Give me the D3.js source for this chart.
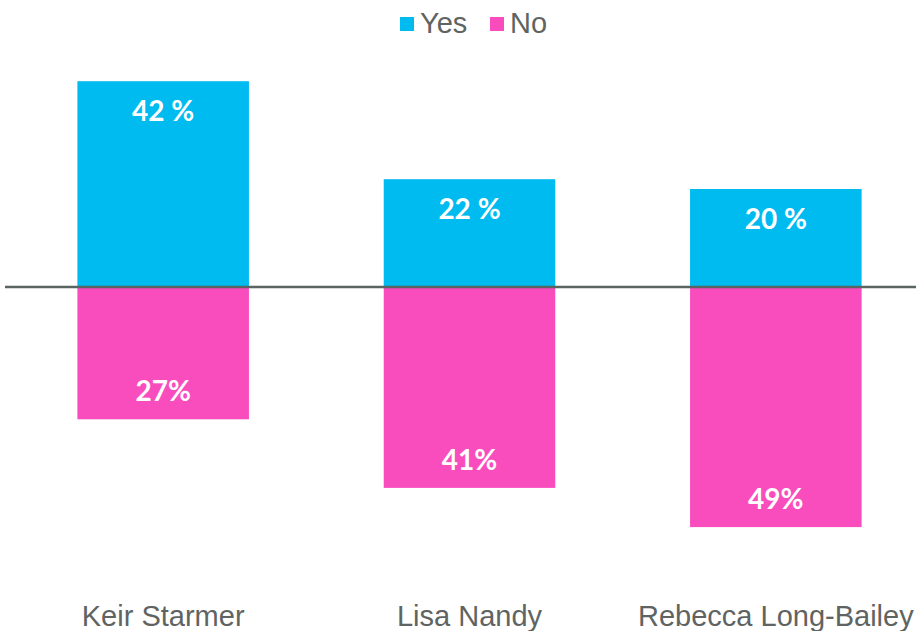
<!DOCTYPE html>
<html>
<head>
<meta charset="utf-8">
<script src="https://cdn.jsdelivr.net/npm/d3@7"></script>
<style>
  html, body { margin: 0; padding: 0; background: #ffffff; }
  svg { display: block; }
</style>
</head>
<body>
<svg id="chart" width="916" height="631"></svg>
<script>
const categories = ["Keir Starmer", "Lisa Nandy", "Rebecca Long-Bailey"];
const yesValues = [42, 22, 20];
const noValues = [27, 41, 49];
const yesLabels = ["42 %", "22 %", "20 %"];
const noLabels = ["27%", "41%", "49%"];
const seriesNames = ["Yes", "No"];
const seriesColors = ["#00BBF0", "#F94DBE"];

const svg = d3.select("#chart");
const W = 916, H = 631;

const x = d3.scaleBand().domain(categories).range([10, 929]).paddingInner(0.44).paddingOuter(0.22);
const y = d3.scaleLinear().domain([-50, 50]).range([532, 42]);

const labelFont = "Lato, 'Open Sans', 'DejaVu Sans', sans-serif";
const axisFont = "'Liberation Sans', Arial, sans-serif";
const textGray = "#5f6462";

// Yes bars
svg.append("g").selectAll("rect").data(categories).join("rect")
  .attr("x", d => x(d))
  .attr("width", x.bandwidth())
  .attr("y", (d, i) => y(yesValues[i]))
  .attr("height", (d, i) => y(0) - y(yesValues[i]))
  .attr("fill", seriesColors[0]);

// No bars
svg.append("g").selectAll("rect").data(categories).join("rect")
  .attr("x", d => x(d))
  .attr("width", x.bandwidth())
  .attr("y", y(0))
  .attr("height", (d, i) => y(-noValues[i]) - y(0))
  .attr("fill", seriesColors[1]);

// zero line
svg.append("line")
  .attr("x1", 5).attr("x2", W)
  .attr("y1", y(0)).attr("y2", y(0))
  .attr("stroke", "#5a6462").attr("stroke-width", 2.5);

// Yes labels
svg.append("g").selectAll("text").data(categories).join("text")
  .attr("x", d => x(d) + x.bandwidth() / 2)
  .attr("y", (d, i) => y(yesValues[i]) + 40)
  .attr("text-anchor", "middle")
  .attr("font-family", labelFont)
  .attr("font-weight", 700)
  .attr("font-size", 28)
  .attr("fill", "#ffffff")
  .text((d, i) => yesLabels[i]);

// No labels
svg.append("g").selectAll("text").data(categories).join("text")
  .attr("x", d => x(d) + x.bandwidth() / 2)
  .attr("y", (d, i) => y(-noValues[i]) - 18)
  .attr("text-anchor", "middle")
  .attr("font-family", labelFont)
  .attr("font-weight", 700)
  .attr("font-size", 28)
  .attr("fill", "#ffffff")
  .text((d, i) => noLabels[i]);

// Category labels
svg.append("g").selectAll("text").data(categories).join("text")
  .attr("x", d => x(d) + x.bandwidth() / 2)
  .attr("y", 626)
  .attr("text-anchor", "middle")
  .attr("font-family", axisFont)
  .attr("font-size", 29)
  .attr("fill", textGray)
  .text(d => d);

// Legend
const legendX = [400, 490];
const lg = svg.append("g").selectAll("g").data(seriesNames).join("g")
  .attr("transform", (d, i) => `translate(${legendX[i]},0)`);
lg.append("rect")
  .attr("x", 0).attr("y", 17).attr("width", 14).attr("height", 14)
  .attr("fill", (d, i) => seriesColors[i]);
lg.append("text")
  .attr("x", 20).attr("y", 33)
  .attr("font-family", axisFont)
  .attr("font-size", 29)
  .attr("fill", textGray)
  .text(d => d);
</script>
</body>
</html>
